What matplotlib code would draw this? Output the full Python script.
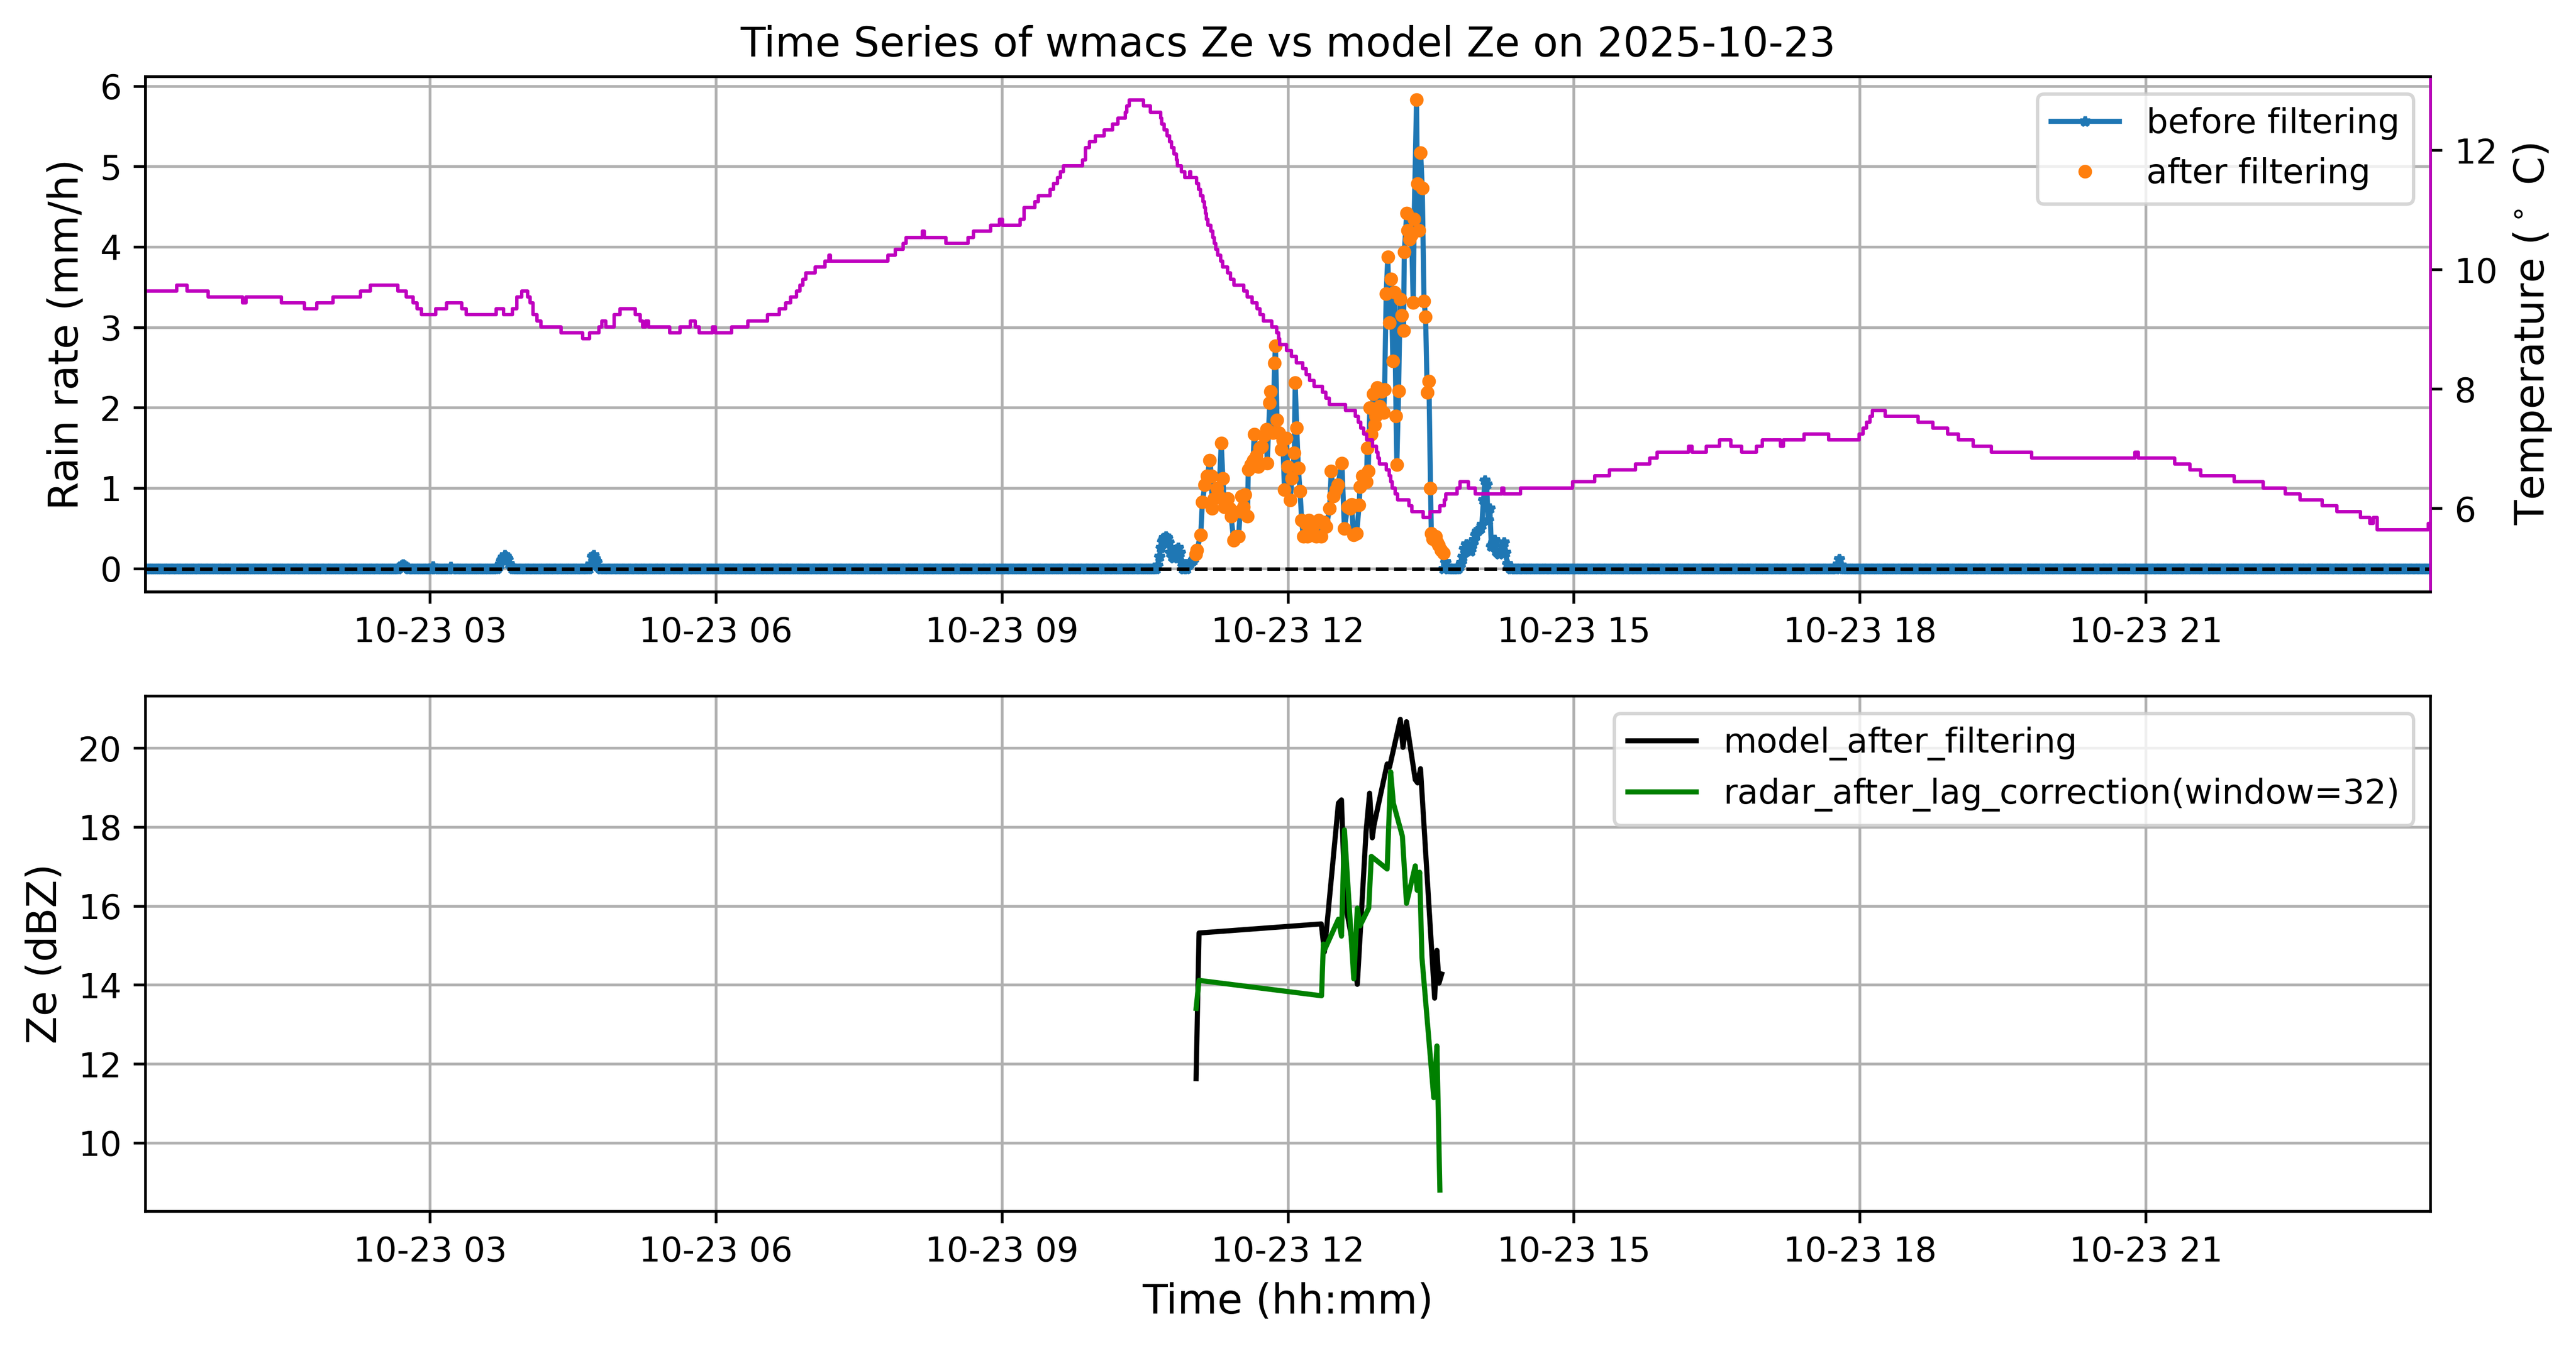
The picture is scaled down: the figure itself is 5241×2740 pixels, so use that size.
import numpy as np
import pandas as pd
import matplotlib
matplotlib.use('Agg')
import matplotlib.pyplot as plt
import matplotlib.dates as mdates

day = pd.Timestamp('2025-10-23')

# small rain bumps seen only before filtering (minute of day, mm/h)
bump_min = [161, 162, 163, 164, 165, 182, 193,
            223, 224, 225, 226, 227, 228, 229, 230, 231,
            281, 282, 283, 284, 285, 286, 1066, 1067, 1068]
bump_rain = [0.02, 0.04, 0.05, 0.04, 0.02, 0.03, 0.02,
             0.02, 0.05, 0.1, 0.14, 0.17, 0.15, 0.12, 0.06, 0.03,
             0.05, 0.15, 0.17, 0.12, 0.08, 0.02, 0.05, 0.12, 0.04]

# rain just before / after the filtered window, one value per minute
pre_start = 638
pre_rain = [0.04, 0.15, 0.26, 0.34, 0.38, 0.4, 0.38, 0.33, 0.2, 0.15, 0.13, 0.18,
            0.24, 0.26, 0.2, 0.08, 0.0, 0.0, 0.0, 0.04, 0.06, 0.08, 0.1, 0.13]
post_start = 819
post_rain = [0.08, 0.03, 0.0, 0.0, 0.0, 0.0, 0.0, 0.0, 0.0, 0.03, 0.07, 0.15, 0.25, 0.3,
             0.29, 0.25, 0.22, 0.3, 0.36, 0.42, 0.46, 0.48, 0.5, 0.55, 0.85, 1.1, 1.05,
             0.6, 0.75, 0.28, 0.32, 0.36, 0.22, 0.2, 0.18, 0.22, 0.28, 0.33, 0.2, 0.06,
             0.02, 0.0]

# rain kept after filtering (minute of day, mm/h)
event_min = [662.0, 662.6, 665.1, 666.1, 667.7, 669.2, 670.8, 671.8, 672.3, 673.4,
             675.4, 676.5, 678.0, 679.0, 680.0, 681.1, 682.1, 683.2, 684.2, 685.8,
             687.3, 688.9, 689.9, 690.9, 692.0, 693.0, 694.5, 695.0, 696.6, 698.1,
             698.7, 700.2, 701.2, 702.3, 703.3, 704.9, 706.4, 706.9, 708.5, 709.0,
             710.5, 711.6, 712.1, 713.1, 714.2, 715.7, 716.7, 717.8, 718.8, 719.8,
             721.4, 722.4, 724.0, 724.5, 725.5, 726.5, 727.6, 728.6, 729.6, 731.2,
             732.2, 733.3, 734.8, 736.3, 737.9, 739.4, 741.0, 742.5, 744.1, 746.2,
             747.2, 748.7, 750.3, 751.4, 753.9, 755.5, 757.5, 759.0, 760.0, 761.2,
             763.2, 764.8, 765.3, 766.8, 768.0, 769.4, 769.9, 770.5, 771.5, 772.5,
             773.6, 774.6, 775.1, 776.1, 777.7, 779.0, 780.3, 780.8, 781.8, 782.8,
             783.9, 784.9, 786.0, 787.0, 788.0, 788.5, 789.6, 790.6, 791.6, 792.7,
             793.2, 794.7, 795.2, 796.5, 797.8, 798.8, 799.4, 800.9, 801.4, 802.5,
             803.5, 804.5, 805.6, 806.6, 807.6, 808.7, 809.7, 810.2, 811.2, 812.8,
             813.8, 814.9, 816.4, 817.9]
event_rain = [0.18, 0.23, 0.42, 0.83, 1.04, 1.15, 1.35, 1.15, 0.75, 0.87,
              1.0, 0.9, 1.56, 1.12, 0.77, 0.79, 0.87, 0.75, 0.65, 0.35,
              0.4, 0.4, 0.71, 0.9, 0.77, 0.92, 0.65, 1.23, 1.29, 1.35,
              1.67, 1.4, 1.27, 1.5, 1.52, 1.65, 1.73, 1.31, 2.06, 2.2,
              1.69, 2.56, 2.77, 1.85, 1.69, 1.48, 1.6, 0.98, 1.62, 1.27,
              0.85, 1.12, 1.44, 2.31, 1.75, 1.25, 0.96, 0.6, 0.4, 0.56,
              0.4, 0.6, 0.42, 0.54, 0.4, 0.6, 0.4, 0.58, 0.52, 0.75,
              1.21, 0.9, 0.98, 1.04, 1.31, 0.5, 0.77, 0.75, 0.8, 0.42,
              0.44, 0.79, 1.02, 1.15, 1.1, 1.08, 1.5, 1.21, 2.0, 1.67,
              2.17, 1.79, 1.9, 2.25, 2.02, 2.2, 1.94, 2.23, 3.42, 3.88,
              3.06, 3.6, 2.58, 3.44, 1.9, 1.29, 2.21, 3.35, 3.15, 2.96,
              3.94, 4.42, 4.21, 4.1, 4.15, 3.31, 4.35, 5.83, 4.79, 4.21,
              5.17, 4.73, 3.33, 3.13, 2.19, 2.33, 1.0, 0.44, 0.37, 0.4,
              0.33, 0.29, 0.23, 0.19]

# temperature (hour of day, deg C), value holds until next entry
temp_hour = [0.0, 0.34, 0.45, 0.67, 1.03, 1.07, 1.44, 1.68, 1.81, 1.98,
             2.27, 2.37, 2.66, 2.75, 2.82, 2.86, 2.91, 3.06, 3.17, 3.33,
             3.38, 3.69, 3.77, 3.86, 3.91, 3.96, 4.02, 4.05, 4.08, 4.12,
             4.16, 4.37, 4.60, 4.67, 4.77, 4.80, 4.84, 4.93, 4.99, 5.15,
             5.20, 5.23, 5.26, 5.29, 5.51, 5.62, 5.73, 5.78, 5.82, 5.96,
             5.99, 6.16, 6.33, 6.54, 6.66, 6.73, 6.78, 6.84, 6.88, 6.91,
             6.94, 7.04, 7.14, 7.18, 7.20, 7.80, 7.88, 7.96, 7.99, 8.16,
             8.18, 8.41, 8.64, 8.70, 8.88, 8.97, 9.00, 9.19, 9.23, 9.34,
             9.38, 9.50, 9.54, 9.58, 9.61, 9.64, 9.84, 9.874, 9.913, 9.978,
             10.067, 10.156, 10.215, 10.289, 10.304, 10.334, 10.482, 10.556, 10.66, 10.675,
             10.70, 10.73, 10.755, 10.776, 10.80, 10.828, 10.84, 10.88, 10.914, 10.966,
             10.975, 11.04, 11.06, 11.08, 11.103, 11.12, 11.13, 11.14, 11.155, 11.19,
             11.21, 11.224, 11.24, 11.258, 11.29, 11.31, 11.361, 11.396, 11.43, 11.534,
             11.568, 11.62, 11.671, 11.706, 11.74, 11.826, 11.878, 11.90, 11.912, 11.981,
             12.033, 12.084, 12.153, 12.187, 12.222, 12.27, 12.36, 12.394, 12.428, 12.60,
             12.704, 12.734, 12.763, 12.793, 12.823, 12.882, 12.926, 12.94, 12.956, 13.03,
             13.06, 13.075, 13.089, 13.119, 13.149, 13.267, 13.297, 13.415, 13.489, 13.593,
             13.637, 13.652, 13.771, 13.80, 13.889, 13.963, 14.239, 14.26, 14.437, 14.985,
             15.216, 15.37, 15.64, 15.794, 15.871, 16.20, 16.233, 16.387, 16.526, 16.641,
             16.757, 16.911, 16.973, 17.165, 17.196, 17.412, 17.666, 17.99, 18.03, 18.067,
             18.10, 18.129, 18.26, 18.606, 18.76, 18.915, 19.03, 19.184, 19.377, 19.80,
             20.88, 20.918, 21.30, 21.457, 21.572, 21.92, 22.228, 22.459, 22.613, 22.844,
             22.998, 23.245, 23.345, 23.383, 23.422, 23.96, 24.0]
temp_c = [9.65, 9.75, 9.65, 9.55, 9.45, 9.55, 9.45, 9.35, 9.45, 9.55,
          9.65, 9.75, 9.65, 9.55, 9.45, 9.35, 9.25, 9.35, 9.45, 9.35,
          9.25, 9.35, 9.25, 9.35, 9.55, 9.65, 9.55, 9.45, 9.25, 9.15,
          9.05, 8.95, 8.85, 8.95, 9.05, 9.15, 9.05, 9.25, 9.35, 9.25,
          9.15, 9.05, 9.15, 9.05, 8.95, 9.05, 9.15, 9.05, 8.95, 9.05,
          8.95, 9.05, 9.15, 9.25, 9.35, 9.45, 9.55, 9.65, 9.75, 9.85,
          9.95, 10.05, 10.15, 10.25, 10.15, 10.25, 10.35, 10.45, 10.55, 10.65,
          10.55, 10.45, 10.55, 10.65, 10.75, 10.85, 10.75, 10.85, 11.05, 11.15,
          11.25, 11.35, 11.45, 11.55, 11.65, 11.75, 11.85, 12.05, 12.15, 12.25,
          12.35, 12.45, 12.55, 12.65, 12.75, 12.85, 12.75, 12.65, 12.55, 12.45,
          12.35, 12.25, 12.15, 12.05, 11.95, 11.85, 11.75, 11.65, 11.55, 11.65,
          11.55, 11.45, 11.35, 11.25, 11.15, 11.05, 10.95, 10.85, 10.75, 10.65,
          10.55, 10.45, 10.35, 10.25, 10.15, 10.05, 9.95, 9.85, 9.75, 9.65,
          9.55, 9.45, 9.35, 9.25, 9.15, 9.05, 8.95, 8.85, 8.75, 8.65,
          8.55, 8.45, 8.35, 8.25, 8.15, 8.05, 7.95, 7.85, 7.75, 7.65,
          7.55, 7.45, 7.35, 7.25, 7.15, 7.05, 6.95, 6.85, 6.75, 6.65,
          6.55, 6.45, 6.35, 6.25, 6.15, 6.05, 5.95, 5.85, 5.95, 6.05,
          6.15, 6.25, 6.35, 6.45, 6.35, 6.25, 6.35, 6.25, 6.35, 6.45,
          6.55, 6.65, 6.75, 6.85, 6.95, 7.05, 6.95, 7.05, 7.15, 7.05,
          6.95, 7.05, 7.15, 7.05, 7.15, 7.25, 7.15, 7.25, 7.35, 7.45,
          7.55, 7.65, 7.55, 7.45, 7.35, 7.25, 7.15, 7.05, 6.95, 6.85,
          6.95, 6.85, 6.75, 6.65, 6.55, 6.45, 6.35, 6.25, 6.15, 6.05,
          5.95, 5.85, 5.75, 5.85, 5.65, 5.75, 5.75]

# Ze (hour of day, dBZ)
model_hour = [11.036, 11.067, 12.349, 12.382, 12.529, 12.561, 12.598, 12.66, 12.727,
              12.819, 12.856, 12.884, 12.902, 13.04, 13.065, 13.178, 13.206, 13.243,
              13.335, 13.36, 13.39, 13.538, 13.562, 13.584, 13.612]
model_ze = [11.63, 15.32, 15.55, 14.84, 18.61, 18.69, 16.1, 15.3, 14.02,
            17.89, 18.86, 17.73, 18.05, 19.6, 19.52, 20.73, 20.02, 20.67,
            19.2, 19.12, 19.48, 13.67, 14.88, 14.05, 14.28]
radar_hour = [11.036, 11.067, 12.352, 12.371, 12.385, 12.529, 12.561, 12.592, 12.69,
              12.727, 12.755, 12.847, 12.874, 13.04, 13.077, 13.105, 13.2, 13.243,
              13.335, 13.355, 13.381, 13.405, 13.529, 13.562, 13.593]
radar_ze = [13.41, 14.12, 13.73, 15.04, 14.9, 15.67, 15.24, 17.93, 14.16,
            15.95, 15.5, 15.95, 17.26, 16.94, 19.40, 18.61, 17.77, 16.07,
            17.02, 16.4, 16.86, 14.7, 11.15, 12.46, 8.81]

# build the full-day series before filtering (zeros on a one-minute grid)
pre_min = list(range(pre_start, pre_start + len(pre_rain)))
post_min = list(range(post_start, post_start + len(post_rain)))
busy = set(bump_min) | set(pre_min) | set(post_min)
zero_min = [m for m in range(1440)
            if m not in busy and not (event_min[0] <= m <= event_min[-1])]
all_min = np.array(zero_min + bump_min + pre_min + post_min + event_min, dtype=float)
all_rain = np.array([0.0] * len(zero_min) + bump_rain + pre_rain + post_rain + event_rain)
order = np.argsort(all_min)
t_before = day + pd.to_timedelta(all_min[order], unit='min')
r_before = all_rain[order]
t_after = day + pd.to_timedelta(event_min, unit='min')

t_temp = day + pd.to_timedelta(temp_hour, unit='h')
t_model = day + pd.to_timedelta(model_hour, unit='h')
t_radar = day + pd.to_timedelta(radar_hour, unit='h')

fig, (ax1, ax3) = plt.subplots(2, 1, figsize=(10.482, 5.48))
fig.subplots_adjust(left=0.0565, right=0.9435, top=0.9431, bottom=0.1, hspace=0.202)

ax1.plot(t_before, r_before, '-*', color='C0', ms=3, label='before filtering')
ax1.plot(t_after, event_rain, '.', color='C1', label='after filtering')
ax1.axhline(0, color='k', ls='--', lw=1)
ax1.set_ylim(-0.29, 6.12)
ax1.set_ylabel('Rain rate (mm/h)', fontsize=12)
ax1.set_title('Time Series of wmacs Ze vs model Ze on 2025-10-23', fontsize=12)
ax1.grid(True)
ax1.legend(loc='upper right')

ax2 = ax1.twinx()
ax2.plot(t_temp, temp_c, color='m', lw=1, drawstyle='steps-post')
ax2.set_ylim(4.6, 13.24)
ax2.set_ylabel('Temperature ($^\\circ$ C)', fontsize=12)
ax2.spines['right'].set_color('m')

ax3.plot(t_model, model_ze, color='k', label='model_after_filtering')
ax3.plot(t_radar, radar_ze, color='g', label='radar_after_lag_correction(window=32)')
ax3.set_ylim(8.27, 21.32)
ax3.set_ylabel('Ze (dBZ)', fontsize=12)
ax3.set_xlabel('Time (hh:mm)', fontsize=12)
ax3.grid(True)
ax3.legend(loc='upper right')

for ax in (ax1, ax3):
    ax.set_xlim(day + pd.Timedelta(minutes=1), day + pd.Timedelta(hours=23, minutes=59))
    ax.xaxis.set_major_locator(mdates.HourLocator(byhour=range(0, 24, 3)))
    ax.xaxis.set_major_formatter(mdates.DateFormatter('%m-%d %H'))

fig.savefig('out.png', dpi=500)
